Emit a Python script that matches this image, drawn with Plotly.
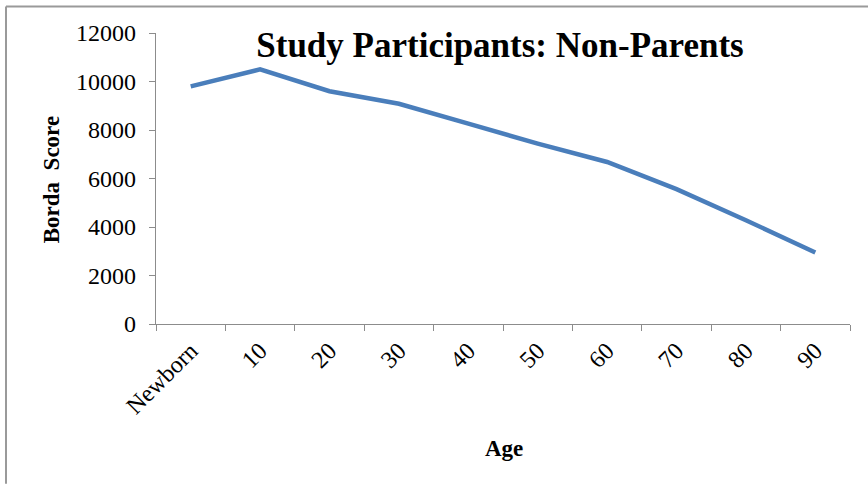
import plotly.graph_objects as go

# Borda scores by age group
ages = ["Newborn", "10", "20", "30", "40", "50", "60", "70", "80", "90"]
borda_scores = [9800, 10500, 9600, 9080, 8260, 7440, 6680, 5560, 4280, 2950]
y_ticks = [0, 2000, 4000, 6000, 8000, 10000, 12000]

W, H = 868, 484
L, R, T, B = 156, 18, 32.5, 160
plot_w = W - L - R
plot_h = H - T - B

serif = "Liberation Serif"
axis_grey = "#8c8c8c"

fig = go.Figure()
fig.add_trace(go.Scatter(
    x=ages,
    y=borda_scores,
    mode="lines",
    line=dict(color="#4a7ebb", width=4.5),
    hoverinfo="x+y",
))

fig.update_layout(
    width=W,
    height=H,
    autosize=False,
    margin=dict(l=L, r=R, t=T, b=B, pad=0),
    paper_bgcolor="white",
    plot_bgcolor="white",
    showlegend=False,
    font=dict(family=serif, color="black"),
    title=dict(
        text="<b>Study Participants: Non-Parents</b>",
        x=500 / W,
        xref="container",
        xanchor="center",
        y=1 - 45 / H,
        yref="container",
        yanchor="middle",
        font=dict(family=serif, size=35, color="black"),
    ),
    xaxis=dict(
        type="category",
        range=[-0.5, len(ages) - 0.5],
        tickson="boundaries",
        ticks="outside",
        ticklen=6,
        tickwidth=1.3,
        tickcolor=axis_grey,
        showline=True,
        linecolor=axis_grey,
        linewidth=1.3,
        showgrid=False,
        zeroline=False,
        tickangle=-45,
        ticklabelstandoff=2,
        tickfont=dict(family=serif, size=24, color="black"),
        fixedrange=True,
    ),
    yaxis=dict(
        range=[0, 12000],
        tickvals=y_ticks,
        ticktext=[str(v) for v in y_ticks],
        ticks="outside",
        ticklen=6,
        tickwidth=1.3,
        tickcolor=axis_grey,
        showline=True,
        linecolor=axis_grey,
        linewidth=1.3,
        showgrid=False,
        zeroline=False,
        ticklabelstandoff=8,
        tickfont=dict(family=serif, size=24, color="black"),
        fixedrange=True,
    ),
)

# Axis titles
fig.add_annotation(
    text="<b>Borda  Score</b>",
    xref="paper", yref="paper",
    x=(51 - L) / plot_w, y=(H - B - 180) / plot_h,
    xanchor="center", yanchor="middle",
    textangle=-90,
    showarrow=False,
    font=dict(family=serif, size=23, color="black"),
)
fig.add_annotation(
    text="<b>Age</b>",
    xref="paper", yref="paper",
    x=(504 - L) / plot_w, y=-(449 - (H - B)) / plot_h,
    xanchor="center", yanchor="middle",
    showarrow=False,
    font=dict(family=serif, size=23, color="black"),
)

# Chart frame (top and left edges)
frame = dict(color="#9a9a9a", width=2)
fig.add_shape(type="line", xref="paper", yref="paper",
              x0=(6 - L) / plot_w, x1=(W - L) / plot_w,
              y0=(H - B - 6) / plot_h, y1=(H - B - 6) / plot_h, line=frame)
fig.add_shape(type="line", xref="paper", yref="paper",
              x0=(6 - L) / plot_w, x1=(6 - L) / plot_w,
              y0=(H - B - 6) / plot_h, y1=-(B) / plot_h, line=frame)

fig.write_html("out.html", config={"displayModeBar": False})
